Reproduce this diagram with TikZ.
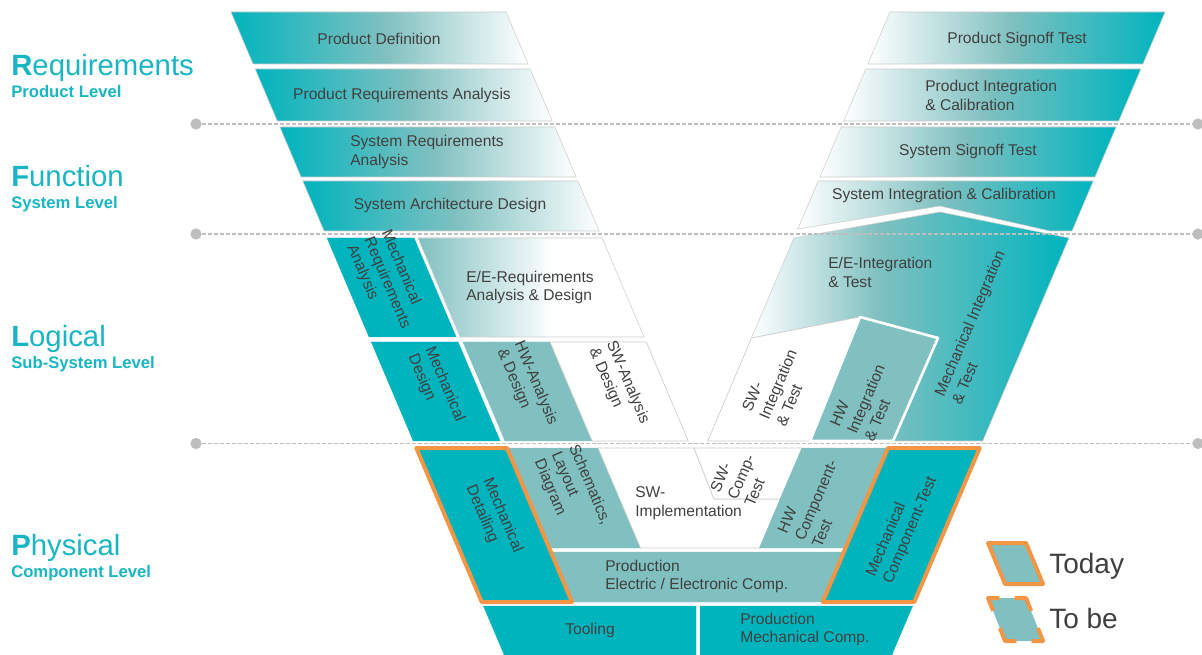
\documentclass[tikz,border=0pt]{standalone}
\usepackage{fontspec}
\setmainfont{Liberation Sans}
\usetikzlibrary{calc}
\definecolor{vteal}{RGB}{0,180,190}
\definecolor{vmid}{RGB}{128,192,192}
\definecolor{vtext}{RGB}{64,64,64}
\definecolor{vlabel}{RGB}{24,182,194}
\definecolor{vorange}{RGB}{242,150,70}
\definecolor{vdash}{RGB}{190,190,190}
\definecolor{vedge}{RGB}{205,205,205}
\pgfdeclarehorizontalshading{ltrshade}{100bp}{color(0bp)=(vteal); color(25bp)=(vteal); color(51bp)=(vmid); color(75bp)=(white); color(100bp)=(white)}
\pgfdeclarehorizontalshading{rtlshade}{100bp}{color(0bp)=(white); color(25bp)=(white); color(49bp)=(vmid); color(75bp)=(vteal); color(100bp)=(vteal)}
\pgfdeclarehorizontalshading{eereqshade}{100bp}{color(0bp)=(vmid); color(25bp)=(vmid); color(55bp)=(white); color(100bp)=(white)}
\pgfdeclarehorizontalshading{eeintshade}{100bp}{color(0bp)=(white); color(25bp)=(white); color(45bp)=(vmid); color(75bp)=(vteal); color(100bp)=(vteal)}
\tikzset{
  lgrad/.style={shade, shading=ltrshade, draw=vedge, line width=0.4pt},
  rgrad/.style={shade, shading=rtlshade, draw=vedge, line width=0.4pt},
  tealblk/.style={fill=vteal, draw=vteal, line width=0.3pt},
  midblk/.style={fill=vmid, draw=vmid, line width=0.3pt},
  whiteblk/.style={fill=white, draw=vedge, line width=0.5pt},
  orangebox/.style={draw=vorange, line width=3pt, line join=round},
  txt/.style={text=vtext, font=\fontsize{11.7}{14}\selectfont, inner sep=0pt, align=left},
  ltxt/.style={txt, rotate=-67},
  rtxt/.style={txt, rotate=67},
  lvl/.style={text=vlabel, font=\fontsize{22}{26}\selectfont, anchor=base west, inner sep=0pt},
  sublvl/.style={text=vlabel, font=\bfseries\fontsize{12.5}{15}\selectfont, anchor=base west, inner sep=0pt},
  levelline/.style={draw=vdash, line width=1.1pt, dash pattern=on 3pt off 1.5pt},
  leveldot/.style={fill=vdash},
  legtxt/.style={text=vtext, font=\fontsize{21}{25}\selectfont, anchor=base west, inner sep=0pt}
}
\begin{document}
\begin{tikzpicture}[x=0.75pt,y=-0.75pt]
\useasboundingbox (0,0) rectangle (1202,655);
\fill[white] (0,0) rectangle (1202,655);

% upper left rows
\path[lgrad] (231,12) -- (506,12) -- (528.1,64) -- (253.1,64) -- cycle;
\path[lgrad] (255.2,69) -- (530.2,69) -- (552.3,121) -- (277.3,121) -- cycle;
\path[lgrad] (279.9,127) -- (554.9,127) -- (576.1,177) -- (301.1,177) -- cycle;
\path[lgrad] (302.8,181) -- (577.8,181) -- (599.1,231) -- (324.1,231) -- cycle;

% upper right rows
\path[rgrad] (890,12) -- (1165,12) -- (1142.9,64) -- (867.9,64) -- cycle;
\path[rgrad] (865.8,69) -- (1140.8,69) -- (1118.7,121) -- (843.7,121) -- cycle;
\path[rgrad] (841.1,127) -- (1116.1,127) -- (1094.9,177) -- (819.9,177) -- cycle;
\path[rgrad] (818.2,181) -- (1093.2,181) -- (1072,231) -- (1050,231) -- (940,206) -- (797.8,229) -- cycle;

% left logical level
\path[tealblk] (327.1,238) -- (414,238) -- (456.1,337) -- (369.1,337) -- cycle;
\path[shade, shading=eereqshade, draw=vedge, line width=0.4pt] (418,238) -- (602.1,238) -- (644.1,337) -- (460.1,337) -- cycle;
\path[tealblk] (371.3,342) -- (458,342) -- (500.1,441) -- (413.3,441) -- cycle;
\path[midblk] (463,342) -- (550,342) -- (592.1,441) -- (505.1,441) -- cycle;
\path[whiteblk] (550,342) -- (646.3,342) -- (688.3,441) -- (592.1,441) -- cycle;

% right logical level
\path[shade, shading=eeintshade, draw=vedge, line width=0.4pt] (793.9,238) -- (940,212) -- (1068.9,238) -- (982.7,441) -- (893,441) -- (938,338) -- (860,317) -- (751.5,338) -- cycle;
\path[whiteblk] (751.5,338) -- (860,317) -- (810,441) -- (707.7,441) -- cycle;
\path[fill=vmid, draw=white, line width=2pt, line join=round] (860,317) -- (938,338) -- (893,441) -- (810,441) -- cycle;

% physical level
\path[midblk] (551.2,552) -- (843.8,552) -- (822.6,602) -- (572.4,602) -- cycle;
\path[midblk] (507,448) -- (598,448) -- (640.5,548) -- (549.5,548) -- cycle;
\path[whiteblk] (598,448) -- (694,448) -- (714,499) -- (780,499) -- (802,448) -- (759.5,548) -- (640.5,548) -- cycle;
\path[whiteblk] (694,448) -- (802,448) -- (780,499) -- (714,499) -- cycle;
\path[midblk] (802,448) -- (888,448) -- (845.5,548) -- (759.5,548) -- cycle;
\path[tealblk] (483.45,606) -- (696,606) -- (696,655) -- (504.3,655) -- cycle;
\path[tealblk] (700,606) -- (912.55,606) -- (891.7,655) -- (700,655) -- cycle;
\path[fill=vteal, orangebox] (416.3,448) -- (507,448) -- (572,602) -- (481.75,602) -- cycle;
\path[fill=vteal, orangebox] (888,448) -- (979.7,448) -- (914.25,602) -- (822.6,602) -- cycle;

% level lines
\foreach \yy in {124,234,443.5} {
  \draw[levelline] (196,\yy) -- (1202,\yy);
  \fill[leveldot] (196,\yy) circle[radius=4.2pt];
  \fill[leveldot] (1198,\yy) circle[radius=4.2pt];
}

% texts
\node[txt] (pd) at (379,39) {Product Definition};
\node[txt] (pra) at (402,95) {Product Requirements Analysis};
\node[txt, anchor=west] (sra) at (350,152) {System Requirements\\Analysis};
\node[txt] (sad) at (450,205) {System Architecture Design};
\node[txt] (pst) at (1017,39) {Product Signoff Test};
\node[txt, anchor=west] (pic) at (925,95.5) {Product Integration\\\& Calibration};
\node[txt] (sst) at (968,151) {System Signoff Test};
\node[txt] (sic) at (944,195) {System Integration \& Calibration};
\node[ltxt] (mra) at (387,283) {Mechanical\\Requirements\\Analysis};
\node[txt, anchor=west] (eer) at (466,287.5) {E/E-Requirements\\Analysis \& Design};
\node[ltxt] (md) at (436,388) {Mechanical\\Design};
\node[ltxt] (hwa) at (527,387) {HW-Analysis\\\& Design};
\node[ltxt] (swa) at (619,386) {SW-Analysis\\\& Design};
\node[txt, anchor=west] (eei) at (828,272.5) {E/E-Integration\\\& Test};
\node[rtxt] (swi) at (778,384) {SW-\\Integration\\\& Test};
\node[rtxt] (hwi) at (866,399) {HW\\Integration\\\& Test};
\node[rtxt] (mit) at (978,327) {Mechanical Integration\\\& Test};
\node[ltxt] (mdet) at (494,519) {Mechanical\\Detailing};
\node[ltxt] (sch) at (572,492) {Schematics,\\Layout\\Diagram};
\node[txt, anchor=west] (swimp) at (635,503) {SW-\\Implementation};
\node[rtxt] (swc) at (741,477) {SW-\\Comp-\\Test};
\node[rtxt] (hwc) at (816,500) {HW\\Component-\\Test};
\node[rtxt] (mct) at (902,527) {Mechanical\\Component-Test};
\node[txt, anchor=west] (pee) at (605,576.5) {Production\\Electric / Electronic Comp.};
\node[txt] (tool) at (590,630) {Tooling};
\node[txt, anchor=west] (pmc) at (740,629.5) {Production\\Mechanical Comp.};

% level labels
\node[lvl] (req) at (11,76) {\textbf{R}equirements};
\node[sublvl] (reqs) at (11,98) {Product Level};
\node[lvl] (fun) at (11,187) {\textbf{F}unction};
\node[sublvl] (funs) at (11,209) {System Level};
\node[lvl] (log) at (11,347) {\textbf{L}ogical};
\node[sublvl] (logs) at (11,369) {Sub-System Level};
\node[lvl] (phy) at (11,555) {\textbf{P}hysical};
\node[sublvl] (phys) at (11,577) {Component Level};

% legend
\coordinate (t1) at (988,543);
\coordinate (t2) at (1026,543);
\coordinate (t3) at (1043,584);
\coordinate (t4) at (1005,584);
\path[fill=vmid, orangebox] (t1) -- (t2) -- (t3) -- (t4) -- cycle;
\coordinate (b1) at (988,598);
\coordinate (b2) at (1026,598);
\coordinate (b3) at (1043,641);
\coordinate (b4) at (1005,641);
\fill[vmid] (b1) -- (b2) -- (b3) -- (b4) -- cycle;
\draw[orangebox] ($(b1)!0.3!(b4)$) -- (b1) -- ($(b1)!0.3!(b2)$);
\draw[orangebox] ($(b2)!0.3!(b1)$) -- (b2) -- ($(b2)!0.3!(b3)$);
\draw[orangebox] ($(b3)!0.3!(b2)$) -- (b3) -- ($(b3)!0.3!(b4)$);
\draw[orangebox] ($(b4)!0.3!(b3)$) -- (b4) -- ($(b4)!0.3!(b1)$);
\node[legtxt] (today) at (1049,573) {Today};
\node[legtxt] (tobe) at (1049,628) {To be};
\end{tikzpicture}
\end{document}
